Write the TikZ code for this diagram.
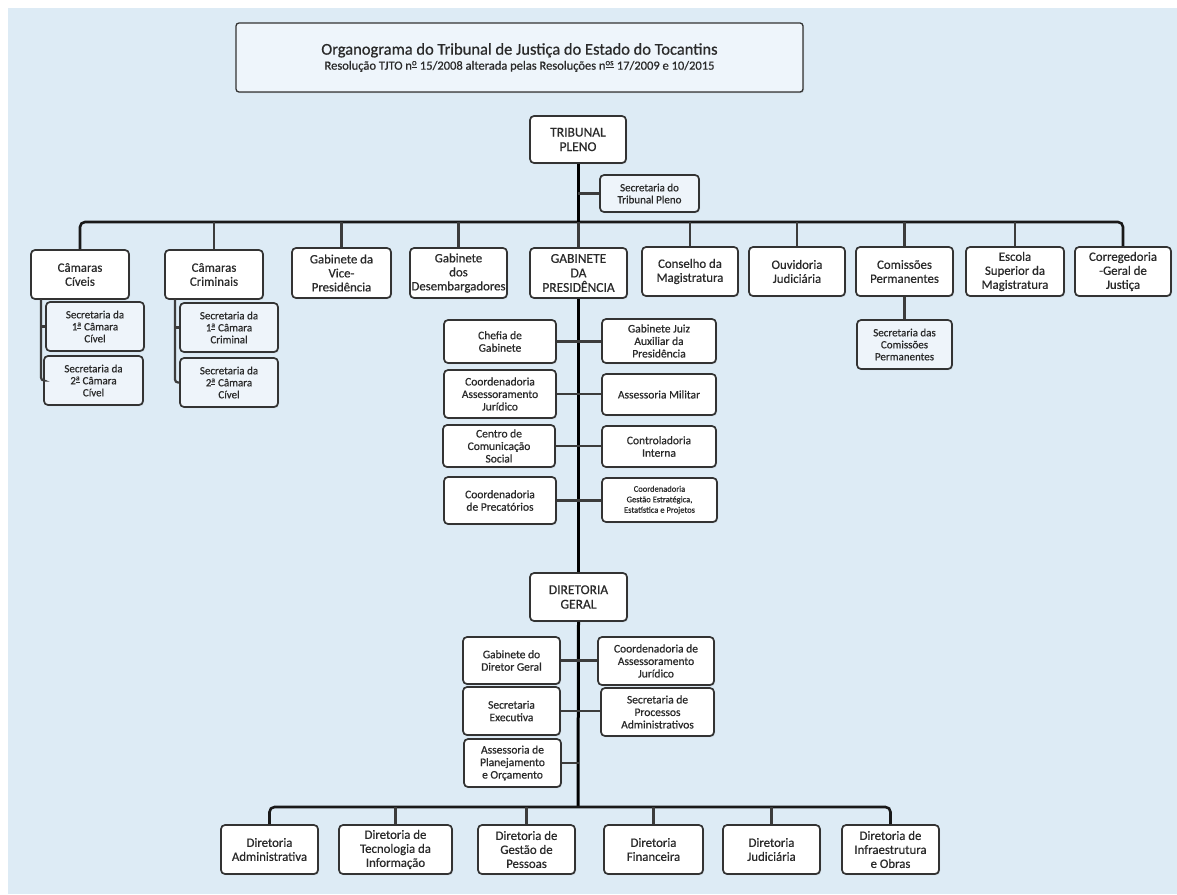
\documentclass[tikz,border=0pt]{standalone}
\usepackage{fontspec}
\setmainfont{Carlito}[FakeBold=0.6]
\usetikzlibrary{shadows}
\definecolor{bg}{HTML}{DDEBF5}
\definecolor{titlefill}{HTML}{EEF5FB}
\definecolor{subfill}{HTML}{EEF4FA}
\definecolor{boxline}{HTML}{333333}
\definecolor{txt}{HTML}{2A2A2A}
\definecolor{dropc}{HTML}{3C3C3C}
\newcommand\sord[1]{\textsuperscript{\underline{#1}}}
\newcommand\bx[7][]{\node[box,#1,minimum width={(#5)-(#3)},minimum height={(#6)-(#4)}] (#2) at ({((#3)+(#5))/2},{((#4)+(#6))/2}) {#7};}
\begin{document}
\begin{tikzpicture}[x=1pt,y=-1pt,
  box/.style={draw=boxline,fill=white,rounded corners=4pt,line width=1.7pt,align=center,inner sep=1pt,text=txt,
    font=\fontsize{12.8}{14}\selectfont,
    drop shadow={shadow xshift=1pt,shadow yshift=-1.2pt,opacity=0.25}},
  caps/.style={font=\fontsize{13.5}{14.5}\selectfont},
  sub/.style={fill=subfill,font=\fontsize{11}{12}\selectfont},
  psub/.style={fill=white,font=\fontsize{11.5}{12.5}\selectfont},
  titlebox/.style={fill=titlefill,rounded corners=3pt,line width=1.3pt},
  mainline/.style={line width=3pt,black},
  bus/.style={line width=2.6pt,black!90,rounded corners=5pt},
  drop/.style={line width=2.2pt,dropc},
]
\useasboundingbox (0,0) rectangle (1177,894);
\fill[bg] (8,8) rectangle (1177,894);

% title
\bx[titlebox]{title}{236}{23}{803}{92}{{\fontsize{16.5}{18}\selectfont Organograma do Tribunal de Justiça do Estado do Tocantins}\\[1pt]
  {\fontsize{12.5}{13}\selectfont Resolução TJTO n\sord{o} 15/2008 alterada pelas Resoluções n\sord{os} 17/2009 e 10/2015}}

% top level
\bx[caps]{tp}{530}{116}{626}{163}{TRIBUNAL\\PLENO}
\bx[sub]{stp}{600}{175}{699}{212}{Secretaria do\\Tribunal Pleno}

\bx{cc}{31}{250}{129}{299}{Câmaras\\Cíveis}
\bx{cr}{165}{250}{263}{299}{Câmaras\\Criminais}
\bx{vp}{292}{248}{391}{298}{Gabinete da\\Vice-\\Presidência}
\bx{gd}{410}{248}{507}{298}{Gabinete\\dos\\Desembargadores}
\bx[caps]{gp}{530}{248}{627}{298}{GABINETE\\DA\\PRESIDÊNCIA}
\bx{cm}{642}{247}{738}{296}{Conselho da\\Magistratura}
\bx{oj}{749}{247}{845}{296}{Ouvidoria\\Judiciária}
\bx{cp}{856}{247}{953}{296}{Comissões\\Permanentes}
\bx{es}{966}{247}{1064}{296}{Escola\\Superior da\\Magistratura}
\bx{cg}{1075}{247}{1171}{296}{Corregedoria\\-Geral de\\Justiça}

% sub units of the chambers
\bx[sub]{s1c}{46}{302}{144}{351}{Secretaria da\\1\sord{a} Câmara\\Cível}
\bx[sub]{s2c}{44}{356}{143}{405}{Secretaria da\\2\sord{a} Câmara\\Cível}
\bx[sub]{s1r}{180}{303}{278}{352}{Secretaria da\\1\sord{a} Câmara\\Criminal}
\bx[sub]{s2r}{180}{358}{278}{407}{Secretaria da\\2\sord{a} Câmara\\Cível}
\bx[sub]{scp}{857}{320}{952}{369}{Secretaria das\\Comissões\\Permanentes}

% presidency units
\bx[psub]{ch}{444}{320}{556}{363}{Chefia de\\Gabinete}
\bx[psub]{gj}{602}{319}{716}{363}{Gabinete Juiz\\Auxiliar da\\Presidência}
\bx[psub]{caj}{444}{370}{556}{418}{Coordenadoria\\Assessoramento\\Jurídico}
\bx[psub]{am}{602}{374}{716}{415}{Assessoria Militar}
\bx[psub]{ccs}{443}{425}{555}{467}{Centro de\\Comunicação\\Social}
\bx[psub]{ci}{602}{426}{716}{467}{Controladoria\\Interna}
\bx[psub]{cpr}{444}{477}{556}{524}{Coordenadoria\\de Precatórios}
\bx[psub,font=\fontsize{8.5}{10.5}\selectfont]{cge}{602}{478}{717}{522}{Coordenadoria\\Gestão Estratégica,\\Estatística e Projetos}

% general directorate
\bx[caps]{dg}{530}{573}{627}{621}{DIRETORIA\\GERAL}
\bx[psub]{gdg}{463}{637}{560}{684}{Gabinete do\\Diretor Geral}
\bx[psub]{caj2}{598}{637}{714}{685}{Coordenadoria de\\Assessoramento\\Jurídico}
\bx[psub]{se}{463}{687}{560}{735}{Secretaria\\Executiva}
\bx[psub]{spa}{601}{688}{714}{736}{Secretaria de\\Processos\\Administrativos}
\bx[psub]{apo}{464}{739}{561}{787}{Assessoria de\\Planejamento\\e Orçamento}

% directorates
\bx{d1}{221}{825}{318}{874}{Diretoria\\Administrativa}
\bx{d2}{339}{825}{452}{874}{Diretoria de\\Tecnologia da\\Informação}
\bx{d3}{478}{825}{575}{874}{Diretoria de\\Gestão de\\Pessoas}
\bx{d4}{604}{825}{703}{874}{Diretoria\\Financeira}
\bx{d5}{723}{825}{820}{874}{Diretoria\\Judiciária}
\bx{d6}{842}{825}{939}{874}{Diretoria de\\Infraestrutura\\e Obras}

% connectors
\coordinate (busT) at (578,222);
\coordinate (busB) at (578,807);
\coordinate (ccv) at (41,299);
\coordinate (crv) at (175,299);

\draw[bus] (cc.north) |- (busT) -| (cg.north);
\foreach \n in {cr,vp,gd,gp,cm,oj,cp,es}{\draw[drop] (\n.north) -- (\n.north |- busT);}
\draw[mainline] (tp.south) -- (busT);
\draw[drop] (stp.west) -- (stp.west -| tp.south);
\draw[drop] (cp.south) -- (scp.north);

\draw[drop,rounded corners=3pt] (ccv) |- (s2c.west);
\draw[drop] (s1c.west) -- (s1c.west -| ccv);
\draw[drop,rounded corners=3pt] (crv) |- (s2r.west);
\draw[drop] (s1r.west) -- (s1r.west -| crv);

\draw[mainline] (gp.south) -- (dg.north);
\draw[drop] (ch.east) -- (ch.east -| gj.west);
\draw[drop] (caj.east) -- (caj.east -| am.west);
\draw[drop] (ccs.east) -- (ccs.east -| ci.west);
\draw[drop] (cpr.east) -- (cpr.east -| cge.west);

\draw[mainline] (dg.south) -- (busB);
\draw[drop] (gdg.east) -- (gdg.east -| caj2.west);
\draw[drop] (se.east) -- (se.east -| spa.west);
\draw[drop] (apo.east) -- (apo.east -| dg.south);

\draw[bus] (d1.north) |- (busB) -| (d6.north);
\foreach \n in {d2,d3,d4,d5}{\draw[drop] (\n.north) -- (\n.north |- busB);}
\end{tikzpicture}
\end{document}
